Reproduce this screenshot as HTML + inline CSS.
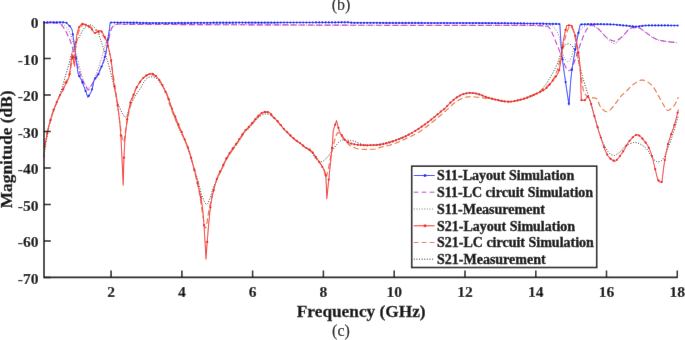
<!DOCTYPE html>
<html><head><meta charset="utf-8"><style>
html,body{margin:0;padding:0;background:#fff;}
svg{display:block;}
text{font-family:"Liberation Serif",serif;fill:#111;}
.tk{font-size:15.6px;font-weight:bold;stroke:#111;stroke-width:0.15px;}
.lg{font-size:14px;font-weight:bold;stroke:#111;stroke-width:0.4px;}
.al{font-size:17.3px;font-weight:bold;stroke:#111;stroke-width:0.3px;}
.cap{font-size:16px;stroke:#111;stroke-width:0.15px;}
</style></head><body>
<svg width="685" height="340" viewBox="0 0 685 340">
<defs><filter id="bl" x="0" y="0" width="685" height="340" filterUnits="userSpaceOnUse"><feConvolveMatrix order="3" kernelMatrix="0.0028 0.0470 0.0028 0.0470 0.8008 0.0470 0.0028 0.0470 0.0028" edgeMode="duplicate" preserveAlpha="false"/></filter></defs>
<g filter="url(#bl)">
<rect width="685" height="340" fill="#fff"/>
<text x="341" y="10" text-anchor="middle" class="cap">(b)</text>
<g><polyline points="44.0,22.8 45.6,22.8 47.9,22.8 50.6,22.8 53.4,22.8 56.0,22.9 58.0,23.0 59.5,23.2 60.6,23.4 61.6,23.6 62.4,24.0 63.2,24.4 64.0,25.0 64.9,25.7 65.8,26.5 66.6,27.4 67.4,28.5 68.2,29.7 69.0,31.0 69.7,32.5 70.4,34.1 71.1,35.9 71.7,37.9 72.3,39.9 73.0,42.0 73.7,44.3 74.3,46.7 75.0,49.2 75.7,51.8 76.3,54.4 77.0,57.0 77.7,59.7 78.3,62.4 79.0,65.2 79.7,68.0 80.3,70.6 81.0,73.0 81.7,75.2 82.4,77.3 83.0,79.2 83.7,81.0 84.4,82.6 85.0,84.0 85.6,85.2 86.2,86.1 86.8,86.9 87.4,87.5 87.9,87.9 88.5,88.0 89.1,87.9 89.6,87.6 90.2,87.0 90.7,86.2 91.3,85.2 92.0,84.0 92.8,82.5 93.6,80.6 94.5,78.5 95.4,76.3 96.2,74.1 97.0,72.0 97.7,70.0 98.4,68.1 99.1,66.1 99.7,64.1 100.3,62.1 101.0,60.0 101.7,57.8 102.3,55.4 103.0,53.1 103.7,50.7 104.3,48.3 105.0,46.0 105.7,43.7 106.3,41.4 107.0,39.1 107.7,36.9 108.3,34.8 109.0,33.0 109.7,31.4 110.3,30.0 110.9,28.8 111.6,27.7 112.3,26.8 113.0,26.0 113.8,25.4 114.5,24.9 115.3,24.7 116.1,24.5 117.0,24.3 118.0,24.2 119.1,24.1 120.3,24.1 121.5,24.2 122.7,24.3 123.9,24.3 125.0,24.4 125.2,24.4 124.4,24.4 123.6,24.4 123.6,24.5 125.4,24.5 130.0,24.5 137.6,24.5 147.4,24.6 159.1,24.6 172.0,24.6 185.8,24.7 200.0,24.7 214.9,24.8 231.1,24.8 248.1,24.9 265.6,25.0 283.0,25.0 300.0,25.1 316.7,25.2 333.3,25.2 350.0,25.3 366.7,25.3 383.3,25.4 400.0,25.4 417.4,25.4 435.6,25.4 453.8,25.4 471.1,25.5 486.8,25.5 500.0,25.5 510.5,25.5 519.1,25.6 525.9,25.6 531.5,25.7 536.1,25.7 540.0,25.8 542.8,25.9 544.2,26.0 544.6,26.1 544.5,26.2 544.5,26.3 545.0,26.3 546.1,26.2 547.2,26.0 548.5,25.7 549.7,25.5 550.8,25.4 551.8,25.5 552.6,25.9 553.3,26.4 553.9,27.1 554.4,27.8 554.9,28.7 555.5,29.5 556.1,30.3 556.7,31.1 557.2,32.0 557.8,33.0 558.3,34.1 558.8,35.6 559.3,37.4 559.7,39.7 560.2,42.1 560.6,44.5 561.0,46.8 561.5,48.9 562.0,50.7 562.5,52.4 563.0,54.0 563.5,55.5 564.0,56.8 564.5,58.0 565.1,59.1 565.6,60.0 566.2,60.9 566.8,61.5 567.4,61.9 568.0,62.0 568.6,61.8 569.2,61.3 569.8,60.5 570.4,59.5 570.9,58.3 571.5,57.0 572.0,55.4 572.5,53.4 573.0,51.3 573.5,49.1 574.0,46.9 574.5,45.0 575.0,43.3 575.4,41.6 575.8,40.0 576.3,38.5 576.7,37.0 577.3,35.6 577.9,34.2 578.7,32.9 579.4,31.7 580.2,30.6 581.0,29.5 581.7,28.6 582.4,27.8 583.1,27.2 583.8,26.6 584.5,26.2 585.2,25.8 586.0,25.5 586.8,25.3 587.6,25.1 588.4,25.0 589.2,25.0 590.1,25.1 591.0,25.3 592.0,25.6 593.0,25.9 594.0,26.4 595.1,26.9 596.1,27.4 597.0,28.0 597.8,28.6 598.6,29.3 599.3,30.0 600.0,30.8 600.7,31.6 601.5,32.5 602.4,33.4 603.3,34.4 604.2,35.5 605.2,36.5 606.2,37.5 607.2,38.5 608.3,39.5 609.5,40.7 610.7,41.8 611.9,42.7 613.1,43.4 614.3,43.6 615.5,43.3 616.7,42.6 617.9,41.5 619.1,40.3 620.2,39.1 621.3,38.0 622.4,36.9 623.4,35.8 624.4,34.6 625.4,33.4 626.3,32.4 627.1,31.5 627.7,30.8 628.2,30.2 628.7,29.6 629.1,29.2 629.6,28.8 630.2,28.5 631.0,28.2 632.0,28.1 633.0,27.9 634.1,27.9 635.0,27.8 635.9,27.8 636.6,27.8 637.2,27.7 637.7,27.7 638.2,27.7 638.7,27.8 639.4,28.1 640.2,28.5 641.0,29.0 641.8,29.7 642.8,30.3 643.7,31.1 644.7,31.8 645.8,32.6 646.9,33.4 648.0,34.3 649.2,35.2 650.4,36.1 651.5,36.8 652.5,37.4 653.5,38.0 654.5,38.5 655.5,39.0 656.5,39.5 657.7,39.9 659.0,40.3 660.4,40.6 661.8,40.9 663.3,41.2 664.9,41.5 666.5,41.7 668.3,41.9 670.3,42.2 672.4,42.4 674.3,42.5 675.9,42.7 677.1,42.8" fill="none" stroke="#8a7272" stroke-width="1.0" stroke-dasharray="1,1.6" stroke-linejoin="round"/>
<polyline points="44.0,157.5 44.1,156.6 44.2,155.4 44.4,153.9 44.6,152.3 44.8,150.6 45.0,149.0 45.2,147.4 45.5,145.8 45.8,144.1 46.1,142.4 46.4,140.7 46.7,139.0 47.0,137.3 47.3,135.6 47.6,133.8 48.0,132.1 48.3,130.5 48.6,129.0 48.9,127.6 49.2,126.3 49.5,125.0 49.9,123.8 50.2,122.7 50.5,121.5 50.8,120.4 51.1,119.3 51.4,118.3 51.7,117.2 52.0,116.2 52.4,115.0 52.8,113.7 53.3,112.4 53.8,111.0 54.3,109.6 54.8,108.3 55.3,107.0 55.7,105.9 56.1,104.9 56.5,104.0 56.9,103.0 57.4,101.8 57.9,100.4 58.5,98.7 59.2,96.8 59.9,94.7 60.6,92.5 61.3,90.2 62.0,88.0 62.7,85.7 63.4,83.3 64.1,80.8 64.7,78.4 65.4,76.1 66.0,74.0 66.6,72.1 67.1,70.3 67.6,68.6 68.1,67.1 68.6,65.5 69.0,64.0 69.4,62.5 69.7,61.1 70.1,59.7 70.4,58.4 70.7,57.0 71.1,55.6 71.5,54.2 71.9,52.8 72.4,51.4 72.8,50.0 73.4,48.5 74.0,47.0 74.7,45.4 75.5,43.8 76.4,42.1 77.3,40.4 78.2,38.7 79.1,37.1 80.0,35.5 80.8,33.8 81.7,32.2 82.6,30.7 83.4,29.3 84.3,28.2 85.2,27.3 86.1,26.6 86.9,26.0 87.8,25.5 88.6,25.2 89.4,25.0 90.1,24.9 90.7,24.8 91.3,24.9 91.8,25.1 92.4,25.5 93.1,26.0 93.9,26.7 94.7,27.6 95.6,28.7 96.4,29.9 97.3,31.2 98.0,32.5 98.7,33.9 99.3,35.5 99.8,37.2 100.4,38.9 100.9,40.7 101.5,42.5 102.1,44.4 102.8,46.4 103.4,48.5 104.1,50.6 104.7,52.6 105.3,54.4 105.8,56.0 106.4,57.6 106.8,59.0 107.3,60.4 107.8,61.8 108.2,63.2 108.6,64.7 109.0,66.1 109.4,67.6 109.7,69.0 110.1,70.5 110.5,72.0 110.9,73.4 111.2,74.7 111.5,76.0 111.9,77.5 112.4,79.3 112.9,81.5 113.5,84.4 114.3,87.8 115.1,91.5 115.9,95.3 116.8,98.8 117.6,101.8 118.4,104.3 119.2,106.6 120.1,108.7 120.9,110.5 121.7,112.1 122.4,113.5 123.1,114.7 123.7,115.7 124.2,116.5 124.8,117.0 125.3,117.2 125.9,117.0 126.5,116.3 127.1,115.1 127.7,113.6 128.3,111.9 128.8,110.3 129.4,108.8 129.9,107.5 130.4,106.1 130.9,104.8 131.4,103.5 131.9,102.2 132.5,101.0 133.1,99.8 133.8,98.6 134.5,97.4 135.1,96.2 135.8,95.1 136.5,94.0 137.2,93.0 137.8,92.1 138.4,91.2 139.1,90.3 139.7,89.3 140.4,88.3 141.1,87.2 141.7,85.9 142.4,84.6 143.1,83.4 143.8,82.2 144.4,81.2 145.0,80.4 145.6,79.7 146.2,79.1 146.7,78.5 147.3,78.1 147.9,77.7 148.5,77.4 149.1,77.1 149.7,77.0 150.3,76.9 150.9,76.8 151.5,76.8 152.1,76.8 152.7,76.9 153.3,77.0 153.8,77.2 154.4,77.4 155.0,77.7 155.6,78.0 156.2,78.3 156.8,78.7 157.3,79.2 157.9,79.7 158.5,80.3 159.1,81.0 159.7,81.9 160.2,82.8 160.8,83.7 161.4,84.7 162.0,85.6 162.6,86.5 163.2,87.3 163.9,88.2 164.5,89.1 165.1,90.0 165.6,90.9 166.1,91.9 166.6,92.9 167.0,94.0 167.4,95.0 167.8,96.1 168.2,97.1 168.5,97.9 168.6,98.5 168.8,99.1 169.0,99.9 169.4,101.1 170.0,103.0 170.9,105.8 172.1,109.3 173.4,113.2 174.8,117.4 176.2,121.4 177.6,125.0 179.0,128.2 180.4,131.3 181.9,134.2 183.3,137.1 184.6,140.0 185.9,143.0 187.0,146.0 188.0,148.9 189.0,151.9 189.9,154.9 190.8,157.9 191.8,161.0 192.8,164.3 193.9,167.7 195.0,171.2 196.1,174.6 197.1,177.9 198.0,181.0 198.8,183.9 199.5,186.6 200.1,189.2 200.7,191.7 201.3,193.9 202.0,196.0 202.7,198.0 203.5,199.8 204.3,201.5 205.1,202.9 205.8,203.9 206.5,204.4 207.1,204.3 207.7,203.6 208.3,202.5 208.8,201.1 209.4,199.6 210.0,198.0 210.6,196.4 211.2,194.6 211.7,192.6 212.4,190.5 213.1,188.3 214.0,186.0 215.1,183.4 216.5,180.5 218.0,177.4 219.5,174.4 220.8,171.7 221.9,169.5 222.7,167.8 223.2,166.6 223.6,165.6 224.0,164.8 224.3,164.0 224.8,163.0 225.4,161.9 226.0,160.7 226.6,159.6 227.3,158.5 228.0,157.4 228.6,156.3 229.2,155.3 229.8,154.4 230.4,153.5 231.1,152.5 231.7,151.6 232.4,150.6 233.2,149.5 234.0,148.4 234.8,147.2 235.6,146.0 236.4,144.9 237.2,143.8 237.9,142.8 238.5,141.8 239.2,140.8 239.8,139.9 240.4,138.9 241.0,138.0 241.6,137.0 242.3,136.1 242.9,135.1 243.5,134.1 244.2,133.2 244.9,132.3 245.6,131.5 246.4,130.7 247.3,129.9 248.1,129.1 248.9,128.4 249.6,127.6 250.3,126.8 251.0,126.0 251.6,125.3 252.2,124.5 252.9,123.7 253.5,123.0 254.1,122.3 254.8,121.5 255.4,120.8 256.0,120.1 256.7,119.4 257.3,118.8 257.9,118.2 258.6,117.6 259.3,117.0 259.9,116.5 260.5,116.0 261.1,115.6 261.6,115.3 262.0,115.0 262.4,114.8 262.7,114.7 263.1,114.5 263.5,114.4 264.0,114.3 264.4,114.2 264.9,114.1 265.4,114.0 266.0,114.0 266.5,114.0 267.1,114.1 267.6,114.2 268.2,114.3 268.8,114.5 269.4,114.7 270.0,115.0 270.5,115.4 271.1,115.8 271.6,116.3 272.1,116.8 272.6,117.3 273.2,117.8 273.8,118.3 274.4,118.8 275.1,119.4 275.7,119.9 276.3,120.4 276.9,121.0 277.4,121.6 277.9,122.1 278.4,122.7 278.9,123.3 279.4,123.9 279.9,124.5 280.5,125.2 281.1,125.9 281.7,126.6 282.3,127.4 282.9,128.1 283.5,128.8 284.1,129.4 284.7,130.0 285.3,130.6 285.9,131.2 286.5,131.8 287.2,132.4 287.9,133.1 288.6,133.8 289.4,134.6 290.1,135.4 290.9,136.1 291.6,136.8 292.3,137.4 293.0,138.1 293.8,138.7 294.5,139.2 295.2,139.8 296.0,140.4 296.8,141.0 297.7,141.6 298.6,142.2 299.5,142.8 300.4,143.4 301.2,144.0 302.0,144.6 302.7,145.1 303.4,145.6 304.1,146.2 304.8,146.8 305.6,147.4 306.5,148.1 307.5,148.8 308.6,149.5 309.7,150.3 310.6,151.1 311.5,152.0 312.2,153.0 312.8,154.0 313.3,155.2 313.8,156.3 314.3,157.3 315.0,158.2 315.8,159.0 316.6,159.8 317.5,160.5 318.5,161.1 319.4,161.5 320.3,161.7 321.2,161.7 322.0,161.5 322.9,161.1 323.8,160.6 324.7,159.9 325.6,159.1 326.6,158.1 327.6,156.9 328.7,155.5 329.7,154.0 330.8,152.6 331.8,151.2 332.8,149.8 333.9,148.4 334.9,146.9 335.9,145.5 336.9,144.3 337.9,143.2 338.8,142.3 339.7,141.5 340.5,140.9 341.3,140.4 342.2,140.0 343.2,139.7 344.3,139.6 345.5,139.7 346.8,139.9 348.0,140.1 349.2,140.4 350.3,140.6 351.2,140.7 351.9,140.8 352.6,140.9 353.3,141.0 354.1,141.2 355.0,141.5 356.1,141.9 357.3,142.4 358.5,143.0 359.9,143.6 361.4,144.1 363.0,144.5 364.8,144.8 366.9,145.0 369.1,145.2 371.2,145.3 373.3,145.3 375.0,145.3 376.4,145.2 377.5,144.9 378.4,144.6 379.4,144.3 380.4,143.9 381.8,143.5 383.5,143.1 385.3,142.7 387.3,142.2 389.4,141.7 391.5,141.1 393.5,140.5 395.5,139.8 397.4,139.1 399.4,138.3 401.4,137.5 403.3,136.7 405.3,135.8 407.3,134.9 409.2,134.0 411.2,133.1 413.2,132.1 415.1,131.0 417.1,129.9 419.1,128.7 421.0,127.4 422.9,126.0 424.9,124.6 426.8,123.2 428.8,121.7 430.8,120.1 433.0,118.3 435.2,116.4 437.2,114.7 439.1,113.1 440.6,111.8 441.7,110.9 442.4,110.4 443.0,110.0 443.4,109.7 443.9,109.3 444.7,108.6 445.7,107.6 446.8,106.5 447.9,105.2 449.2,103.9 450.4,102.7 451.7,101.5 453.0,100.4 454.4,99.3 455.8,98.2 457.2,97.2 458.6,96.4 459.9,95.6 461.1,95.0 462.3,94.5 463.5,94.1 464.6,93.8 465.7,93.6 466.9,93.4 468.1,93.2 469.2,93.1 470.4,93.1 471.6,93.1 472.7,93.2 473.9,93.3 475.1,93.5 476.2,93.7 477.3,94.0 478.5,94.3 479.7,94.6 480.9,95.0 482.1,95.4 483.2,95.9 484.3,96.4 485.6,96.9 487.2,97.4 489.1,98.0 491.6,98.7 494.5,99.4 497.7,100.2 501.0,100.9 504.2,101.5 507.1,101.8 509.7,101.8 512.1,101.6 514.4,101.3 516.7,100.8 518.9,100.3 521.2,99.7 523.5,99.1 525.9,98.4 528.3,97.7 530.6,96.8 532.8,95.9 534.7,95.0 536.4,94.0 537.9,92.9 539.3,91.7 540.5,90.5 541.7,89.3 542.9,88.0 544.0,86.7 545.1,85.3 546.1,83.9 547.0,82.5 547.9,81.1 548.8,79.7 549.7,78.3 550.5,77.0 551.3,75.6 552.0,74.2 552.8,72.9 553.5,71.5 554.2,70.1 554.9,68.8 555.6,67.5 556.3,66.1 557.0,64.7 557.6,63.2 558.2,61.6 558.7,59.8 559.3,58.0 559.8,56.2 560.3,54.5 560.9,53.0 561.5,51.6 562.1,50.3 562.7,49.0 563.3,47.9 563.9,46.9 564.5,46.0 565.1,45.3 565.7,44.7 566.3,44.3 566.9,44.0 567.5,43.9 568.1,43.8 568.7,43.9 569.4,44.0 570.0,44.3 570.7,44.7 571.3,45.3 572.0,46.0 572.7,46.8 573.4,47.7 574.2,48.8 574.9,50.0 575.6,51.4 576.3,53.0 577.0,54.9 577.6,57.1 578.2,59.5 578.8,62.0 579.4,64.5 580.0,66.8 580.6,69.0 581.1,71.2 581.7,73.3 582.3,75.5 582.8,77.7 583.5,80.0 584.2,82.3 584.9,84.7 585.7,87.1 586.5,89.6 587.3,92.2 588.2,95.0 589.1,98.0 590.0,101.3 591.0,104.7 592.0,108.1 593.0,111.6 594.0,115.0 595.0,118.4 596.0,121.9 596.9,125.3 597.9,128.7 598.9,132.0 600.0,135.0 601.1,137.9 602.2,140.7 603.4,143.4 604.6,145.9 605.8,148.1 606.9,150.0 608.0,151.6 609.1,152.8 610.2,153.9 611.3,154.6 612.4,155.1 613.5,155.4 614.6,155.4 615.7,155.0 616.8,154.4 617.9,153.6 619.0,152.8 620.0,152.0 620.9,151.1 621.7,150.2 622.4,149.1 623.2,148.1 624.1,147.1 625.3,146.2 626.7,145.4 628.4,144.5 630.1,143.6 632.0,143.0 633.8,142.5 635.6,142.5 637.4,142.9 639.2,143.6 641.0,144.5 642.8,145.7 644.4,146.9 645.9,148.2 647.2,149.6 648.3,151.2 649.3,152.9 650.3,154.7 651.2,156.2 652.1,157.5 653.0,158.6 653.8,159.5 654.7,160.3 655.5,161.0 656.3,161.4 657.2,161.6 658.2,161.7 659.1,161.6 660.2,161.4 661.2,160.9 662.3,159.9 663.4,158.5 664.5,156.5 665.7,154.0 666.9,151.1 668.1,147.9 669.4,144.5 670.6,141.0 672.0,136.9 673.4,132.2 675.0,127.3 676.4,122.5 677.5,118.5 678.4,115.7" fill="none" stroke="#222" stroke-width="1.0" stroke-dasharray="1,1.6" stroke-linejoin="round"/>
<polyline points="44.0,22.8 45.3,22.8 47.0,22.8 49.1,22.8 51.3,22.8 53.3,22.9 55.0,23.0 56.3,23.1 57.4,23.2 58.3,23.3 59.2,23.5 60.1,23.9 61.0,24.5 61.9,25.4 62.9,26.6 63.8,27.9 64.7,29.3 65.6,30.9 66.5,32.6 67.4,34.4 68.3,36.5 69.3,38.6 70.2,40.8 71.0,43.0 71.7,45.0 72.3,46.8 72.7,48.5 73.1,50.1 73.4,51.7 73.8,53.5 74.4,55.6 75.1,58.0 75.9,60.8 76.8,63.7 77.8,66.6 78.6,69.3 79.4,71.7 80.1,73.7 80.7,75.4 81.3,76.9 81.9,78.4 82.4,79.7 83.0,81.0 83.6,82.3 84.2,83.6 84.8,84.8 85.4,85.8 86.0,86.8 86.5,87.6 86.9,88.3 87.3,89.0 87.6,89.6 88.0,89.9 88.4,89.9 89.0,89.5 89.8,88.6 90.6,87.1 91.6,85.4 92.6,83.5 93.6,81.7 94.5,80.0 95.3,78.5 96.1,77.2 96.8,75.8 97.5,74.4 98.2,73.0 99.0,71.5 99.8,69.9 100.7,68.2 101.6,66.4 102.5,64.6 103.3,62.8 104.0,61.0 104.6,59.2 105.0,57.4 105.4,55.6 105.8,53.7 106.1,51.9 106.5,50.0 106.9,48.1 107.3,46.1 107.7,44.1 108.0,42.1 108.4,40.2 108.8,38.5 109.2,36.9 109.5,35.3 109.9,33.8 110.2,32.4 110.6,31.1 111.0,30.0 111.4,29.0 111.8,28.1 112.2,27.4 112.7,26.7 113.2,26.1 113.8,25.6 114.5,25.1 115.2,24.8 115.9,24.5 116.7,24.3 117.6,24.1 118.5,24.0 119.5,23.9 120.6,24.0 121.7,24.0 122.9,24.1 124.0,24.2 125.0,24.3 125.2,24.3 124.4,24.3 123.5,24.4 123.6,24.4 125.4,24.4 130.0,24.4 137.6,24.4 147.4,24.5 159.1,24.5 172.0,24.5 185.8,24.6 200.0,24.6 214.9,24.7 231.1,24.7 248.1,24.8 265.6,24.9 283.0,24.9 300.0,25.0 316.7,25.1 333.3,25.1 350.0,25.2 366.7,25.2 383.3,25.3 400.0,25.3 417.5,25.3 435.9,25.4 454.4,25.4 471.9,25.4 487.4,25.4 500.0,25.4 509.3,25.4 515.9,25.4 520.6,25.4 524.1,25.4 527.0,25.4 530.0,25.4 532.8,25.4 534.9,25.4 536.4,25.5 537.5,25.5 538.7,25.6 540.0,25.7 541.5,25.8 543.0,25.8 544.4,25.8 545.8,26.0 547.1,26.3 548.2,26.8 549.2,27.6 550.0,28.7 550.7,29.9 551.3,31.2 552.0,32.5 552.6,33.9 553.2,35.2 553.8,36.5 554.3,37.9 554.9,39.4 555.5,41.0 556.2,42.7 557.0,44.7 557.9,46.8 558.8,49.1 559.7,51.5 560.6,53.7 561.5,55.9 562.3,58.0 563.1,60.2 563.8,62.3 564.5,64.2 565.2,66.0 565.9,67.4 566.5,68.5 567.1,69.4 567.7,70.0 568.3,70.4 568.8,70.6 569.4,70.6 570.0,70.3 570.5,69.8 571.1,69.1 571.7,68.1 572.3,67.0 572.9,65.6 573.6,64.0 574.3,62.0 575.1,59.8 575.9,57.5 576.6,55.3 577.3,53.3 577.9,51.4 578.6,49.6 579.2,47.8 579.7,46.0 580.3,44.3 580.9,42.7 581.5,41.1 582.1,39.5 582.7,38.0 583.2,36.6 583.8,35.2 584.4,33.9 585.0,32.7 585.6,31.5 586.1,30.4 586.7,29.4 587.3,28.5 587.9,27.7 588.5,27.0 589.1,26.5 589.8,26.0 590.4,25.7 591.0,25.4 591.5,25.2 592.0,25.1 592.4,25.1 592.8,25.2 593.2,25.4 593.6,25.6 594.0,25.8 594.5,26.0 594.9,26.2 595.4,26.5 595.9,26.8 596.5,27.2 597.1,27.7 597.7,28.3 598.4,28.9 599.1,29.7 599.9,30.4 600.7,31.3 601.5,32.1 602.4,33.0 603.2,34.0 604.2,35.1 605.1,36.1 606.1,37.1 607.2,37.9 608.4,38.7 609.6,39.4 610.9,40.1 612.2,40.6 613.5,41.0 614.7,41.1 615.9,40.9 617.0,40.5 618.1,39.8 619.2,39.1 620.3,38.2 621.3,37.4 622.3,36.5 623.4,35.4 624.4,34.3 625.4,33.1 626.3,32.1 627.1,31.2 627.7,30.5 628.2,29.9 628.7,29.3 629.1,28.9 629.6,28.5 630.2,28.2 631.0,28.0 632.0,27.8 633.0,27.7 634.1,27.6 635.0,27.6 635.9,27.6 636.6,27.6 637.2,27.5 637.7,27.5 638.2,27.5 638.7,27.6 639.4,27.9 640.2,28.3 641.0,28.8 641.8,29.4 642.8,30.1 643.7,30.8 644.7,31.5 645.8,32.3 646.9,33.1 648.0,34.0 649.2,34.9 650.4,35.8 651.5,36.5 652.5,37.1 653.5,37.7 654.5,38.2 655.5,38.7 656.5,39.2 657.7,39.6 659.0,40.0 660.4,40.3 661.8,40.6 663.3,40.9 664.9,41.2 666.5,41.4 668.3,41.6 670.3,41.9 672.4,42.1 674.3,42.2 675.9,42.4 677.1,42.5" fill="none" stroke="#c63ad6" stroke-width="1.15" stroke-dasharray="5.6,2.9" stroke-linejoin="round"/>
<polyline points="44.0,156.7 44.1,155.7 44.2,154.2 44.3,152.6 44.4,150.7 44.6,148.9 44.8,147.1 45.1,145.4 45.4,143.6 45.7,141.8 46.0,140.1 46.4,138.3 46.7,136.6 47.0,134.9 47.3,133.2 47.7,131.6 48.0,129.9 48.3,128.4 48.6,127.0 48.9,125.7 49.2,124.6 49.5,123.5 49.9,122.5 50.2,121.5 50.5,120.4 50.8,119.3 51.1,118.2 51.4,117.1 51.7,116.0 52.0,114.9 52.4,113.7 52.8,112.5 53.3,111.2 53.7,110.0 54.2,108.7 54.8,107.4 55.3,106.0 55.9,104.6 56.5,103.1 57.1,101.6 57.8,100.1 58.5,98.7 59.1,97.3 59.7,96.1 60.4,94.9 61.1,93.8 61.7,92.7 62.3,91.6 62.8,90.5 63.2,89.4 63.4,88.4 63.6,87.3 63.7,86.3 64.0,85.2 64.4,84.0 65.0,82.8 65.7,81.7 66.5,80.5 67.3,79.2 68.1,77.7 68.8,76.0 69.4,74.0 70.0,71.6 70.5,69.1 71.0,66.6 71.5,64.2 72.0,62.0 72.5,60.1 73.0,58.4 73.4,56.8 73.9,55.2 74.3,53.6 74.7,52.0 75.1,50.3 75.4,48.6 75.7,47.0 75.9,45.3 76.2,43.6 76.5,42.0 76.8,40.4 77.1,38.7 77.3,37.1 77.6,35.6 78.0,34.0 78.4,32.6 78.9,31.2 79.5,29.8 80.1,28.4 80.7,27.2 81.4,26.1 82.1,25.3 82.8,24.8 83.5,24.4 84.2,24.3 84.9,24.3 85.7,24.4 86.5,24.6 87.4,25.0 88.4,25.5 89.4,26.1 90.4,26.8 91.4,27.5 92.4,28.2 93.4,28.8 94.3,29.4 95.3,29.9 96.2,30.5 97.2,31.2 98.2,31.9 99.2,32.7 100.3,33.6 101.5,34.5 102.5,35.4 103.5,36.4 104.4,37.5 105.1,38.6 105.7,39.7 106.2,40.9 106.7,42.2 107.1,43.5 107.6,45.0 108.1,46.6 108.5,48.4 109.0,50.2 109.4,52.1 109.8,54.1 110.2,56.0 110.5,57.9 110.9,59.9 111.1,61.9 111.4,64.0 111.7,66.0 112.0,68.0 112.3,69.9 112.6,71.7 112.9,73.5 113.3,75.4 113.6,77.5 114.0,80.0 114.4,82.9 114.9,86.1 115.5,89.5 116.0,93.0 116.5,96.6 117.0,100.0 117.4,103.3 117.8,106.6 118.2,109.9 118.6,113.2 119.0,116.6 119.5,120.0 120.1,123.9 120.7,128.5 121.3,133.0 122.0,137.1 122.6,140.2 123.2,141.8 123.7,141.6 124.2,139.9 124.6,137.3 125.1,134.1 125.5,130.8 126.0,128.0 126.5,125.5 126.9,122.9 127.4,120.3 127.9,117.6 128.4,114.8 129.0,112.0 129.7,109.0 130.5,105.8 131.4,102.5 132.2,99.3 133.0,96.4 133.8,94.0 134.4,92.1 135.0,90.6 135.5,89.4 136.1,88.3 136.7,87.2 137.4,86.0 138.2,84.6 139.1,83.2 140.1,81.7 141.1,80.3 142.1,79.1 143.2,78.0 144.3,77.1 145.5,76.2 146.7,75.5 147.9,75.0 149.1,74.6 150.3,74.5 151.5,74.6 152.8,75.0 154.0,75.6 155.2,76.3 156.4,77.1 157.4,78.0 158.3,78.9 159.1,80.0 159.8,81.1 160.5,82.4 161.3,83.6 162.0,85.0 162.8,86.4 163.7,88.0 164.5,89.6 165.4,91.2 166.1,92.9 166.8,94.5 167.3,96.0 167.6,97.2 167.9,98.5 168.2,100.0 168.7,101.8 169.4,104.0 170.4,106.9 171.7,110.3 173.1,114.0 174.7,117.8 176.2,121.5 177.6,125.0 179.0,128.2 180.4,131.2 181.9,134.2 183.3,137.1 184.7,140.0 185.9,143.0 187.0,145.9 188.0,148.7 189.0,151.5 189.9,154.4 190.8,157.5 191.8,161.0 192.9,164.9 194.0,169.2 195.1,173.7 196.2,178.3 197.3,182.7 198.2,187.0 199.0,191.1 199.7,195.1 200.3,199.0 200.9,202.8 201.4,206.5 202.0,210.0 202.6,213.7 203.2,217.7 203.8,221.6 204.3,224.9 204.9,227.1 205.5,228.0 206.1,227.1 206.6,224.7 207.2,221.2 207.8,217.3 208.4,213.4 209.0,210.0 209.6,206.9 210.3,203.8 211.0,200.7 211.6,197.6 212.3,194.7 213.0,192.0 213.7,189.5 214.3,187.2 214.9,185.0 215.6,182.9 216.3,181.0 217.0,179.0 217.8,177.1 218.7,175.2 219.7,173.5 220.6,171.8 221.5,170.2 222.2,168.7 222.8,167.4 223.3,166.2 223.7,165.1 224.2,164.1 224.6,163.1 225.1,162.0 225.7,160.9 226.3,159.7 226.9,158.6 227.6,157.5 228.3,156.4 228.9,155.3 229.5,154.3 230.1,153.4 230.7,152.4 231.4,151.5 232.0,150.6 232.7,149.6 233.5,148.5 234.3,147.4 235.1,146.3 235.9,145.1 236.7,144.0 237.5,142.9 238.2,141.9 238.8,140.9 239.5,139.9 240.1,139.0 240.7,138.1 241.3,137.1 241.9,136.1 242.6,135.2 243.2,134.2 243.8,133.2 244.5,132.3 245.2,131.4 245.9,130.5 246.7,129.7 247.6,128.9 248.4,128.2 249.2,127.4 249.9,126.6 250.6,125.8 251.3,125.0 251.9,124.2 252.5,123.4 253.2,122.7 253.8,121.9 254.4,121.1 255.1,120.4 255.7,119.6 256.3,118.9 257.0,118.2 257.6,117.5 258.2,116.9 258.9,116.2 259.6,115.6 260.2,115.0 260.8,114.5 261.4,114.1 261.9,113.8 262.3,113.5 262.7,113.3 263.0,113.1 263.4,112.9 263.8,112.8 264.3,112.7 264.7,112.5 265.2,112.4 265.7,112.4 266.3,112.4 266.8,112.4 267.4,112.5 267.9,112.7 268.5,112.8 269.1,113.1 269.7,113.4 270.3,113.8 270.8,114.3 271.4,114.8 271.9,115.5 272.4,116.1 272.9,116.8 273.5,117.4 274.1,118.0 274.7,118.6 275.4,119.2 276.0,119.8 276.6,120.4 277.2,121.0 277.7,121.6 278.2,122.2 278.7,122.8 279.2,123.4 279.7,124.0 280.2,124.7 280.8,125.4 281.4,126.1 282.0,126.9 282.6,127.7 283.2,128.4 283.8,129.1 284.4,129.7 285.0,130.4 285.6,130.9 286.2,131.5 286.8,132.2 287.5,132.8 288.2,133.5 288.9,134.2 289.7,135.0 290.4,135.8 291.2,136.5 291.9,137.2 292.6,137.9 293.3,138.5 294.1,139.1 294.8,139.7 295.5,140.3 296.3,140.9 297.1,141.5 298.0,142.1 298.9,142.8 299.8,143.4 300.7,144.0 301.5,144.6 302.3,145.2 303.0,145.8 303.7,146.4 304.4,147.0 305.1,147.6 305.9,148.2 306.8,148.8 307.7,149.3 308.6,149.9 309.6,150.5 310.5,151.2 311.5,152.0 312.5,153.1 313.5,154.3 314.6,155.7 315.6,157.0 316.5,158.4 317.4,159.5 318.1,160.5 318.8,161.3 319.4,162.1 319.9,162.9 320.5,163.7 321.0,164.5 321.5,165.3 322.0,166.1 322.5,167.0 322.9,167.8 323.4,168.7 323.8,169.7 324.2,171.0 324.6,172.6 324.9,174.2 325.3,175.7 325.6,176.7 326.0,177.0 326.4,176.5 326.8,175.3 327.2,173.7 327.7,171.9 328.1,169.9 328.5,168.0 328.9,166.1 329.3,164.1 329.7,161.9 330.1,159.7 330.5,157.6 330.9,155.6 331.3,153.7 331.8,151.8 332.2,150.0 332.7,148.2 333.1,146.5 333.5,145.0 333.8,143.6 334.1,142.3 334.4,141.1 334.7,140.0 335.0,138.9 335.3,137.9 335.7,136.8 336.1,135.7 336.5,134.6 337.0,133.7 337.5,133.0 337.9,132.6 338.3,132.5 338.7,132.8 339.1,133.2 339.5,133.8 340.0,134.6 340.6,135.3 341.3,136.1 342.1,137.1 343.0,138.2 344.0,139.4 344.9,140.5 345.9,141.5 346.8,142.5 347.8,143.4 348.7,144.3 349.7,145.2 350.8,146.0 352.0,146.7 353.3,147.3 354.6,147.8 355.9,148.3 357.4,148.7 359.1,149.0 360.9,149.2 363.0,149.3 365.5,149.4 368.1,149.4 370.6,149.3 373.0,149.2 375.0,149.0 376.5,148.8 377.6,148.5 378.6,148.2 379.4,147.8 380.5,147.4 381.8,147.0 383.5,146.6 385.3,146.1 387.3,145.7 389.4,145.2 391.5,144.6 393.5,144.0 395.5,143.3 397.4,142.5 399.4,141.7 401.4,140.8 403.3,139.9 405.3,139.0 407.3,138.1 409.2,137.2 411.2,136.3 413.2,135.3 415.1,134.3 417.1,133.2 419.1,132.0 421.0,130.7 422.9,129.3 424.9,127.9 426.8,126.5 428.8,125.0 430.8,123.4 432.9,121.7 435.0,120.0 437.0,118.3 438.9,116.7 440.6,115.2 442.1,113.9 443.5,112.7 444.7,111.7 445.9,110.7 447.0,109.6 448.2,108.6 449.4,107.5 450.5,106.4 451.7,105.4 452.8,104.3 454.0,103.3 455.2,102.4 456.5,101.5 457.9,100.7 459.3,99.8 460.7,99.1 462.1,98.4 463.4,97.9 464.6,97.5 465.8,97.2 466.9,97.0 468.0,96.8 469.2,96.8 470.4,96.7 471.7,96.7 473.0,96.7 474.4,96.9 475.8,97.0 477.2,97.2 478.6,97.3 480.0,97.5 481.4,97.6 482.9,97.8 484.3,98.1 485.5,98.2 486.7,98.4 487.6,98.5 488.1,98.6 488.6,98.6 489.1,98.7 490.0,98.8 491.4,99.0 493.4,99.4 495.9,100.0 498.7,100.6 501.6,101.1 504.4,101.6 507.1,101.8 509.6,101.8 512.0,101.6 514.4,101.2 516.7,100.8 519.0,100.3 521.2,99.7 523.3,99.1 525.4,98.4 527.3,97.6 529.3,96.7 531.1,95.9 532.9,95.0 534.6,94.2 536.3,93.3 537.8,92.4 539.4,91.6 540.9,90.6 542.4,89.6 543.9,88.5 545.5,87.4 547.0,86.2 548.5,85.0 549.8,83.7 551.0,82.5 552.0,81.3 552.8,80.0 553.5,78.8 554.1,77.6 554.7,76.3 555.3,75.0 555.9,73.7 556.4,72.5 556.8,71.2 557.3,69.9 557.7,68.5 558.2,67.0 558.7,65.3 559.2,63.4 559.7,61.5 560.1,59.6 560.6,57.7 561.0,56.0 561.4,54.6 561.7,53.3 562.0,52.1 562.3,50.9 562.6,49.6 563.0,48.0 563.4,46.1 563.9,43.9 564.4,41.5 564.9,39.1 565.5,36.9 566.0,35.0 566.6,33.2 567.1,31.6 567.7,30.0 568.3,28.7 568.9,27.6 569.5,27.0 570.1,26.8 570.7,26.9 571.3,27.2 571.9,27.9 572.4,28.9 573.0,30.0 573.5,31.4 574.1,33.1 574.6,35.1 575.1,37.2 575.5,39.5 576.0,42.0 576.4,44.7 576.9,47.6 577.3,50.7 577.7,53.9 578.1,57.0 578.5,60.0 578.9,62.8 579.4,65.6 579.9,68.3 580.3,71.0 580.8,73.6 581.2,76.2 581.6,78.8 581.9,81.3 582.2,83.8 582.6,86.2 583.0,88.4 583.5,90.3 584.1,92.0 584.8,93.4 585.5,94.7 586.3,95.7 587.2,96.6 588.2,97.4 589.4,97.9 590.9,98.0 592.4,97.9 593.9,97.8 595.3,98.0 596.5,98.5 597.4,99.5 598.0,100.8 598.5,102.2 599.0,103.8 599.6,105.2 600.3,106.5 601.2,107.7 602.3,108.8 603.5,110.0 604.6,110.9 605.8,111.5 606.9,111.8 607.9,111.6 608.9,111.1 609.9,110.2 610.9,109.2 611.9,108.0 613.0,106.8 614.1,105.5 615.3,103.9 616.5,102.2 617.6,100.5 618.8,98.9 620.0,97.4 621.1,96.1 622.3,94.9 623.4,93.8 624.5,92.8 625.6,91.7 626.8,90.6 628.0,89.5 629.1,88.3 630.3,87.1 631.5,86.0 632.7,84.9 634.0,84.0 635.3,83.1 636.7,82.1 638.2,81.2 639.6,80.5 641.1,80.1 642.6,80.0 644.1,80.3 645.7,80.9 647.4,81.8 649.0,82.9 650.5,84.1 651.9,85.4 653.2,86.9 654.4,88.6 655.5,90.5 656.6,92.4 657.6,94.2 658.5,95.9 659.4,97.4 660.1,98.8 660.9,100.2 661.6,101.5 662.3,102.8 663.0,104.0 663.8,105.3 664.5,106.7 665.3,108.0 666.1,109.2 666.9,110.0 667.8,110.4 668.8,110.2 670.0,109.6 671.1,108.6 672.3,107.5 673.4,106.3 674.4,105.1 675.3,103.8 676.1,102.4 676.8,100.8 677.5,99.3 678.0,98.1 678.4,97.2" fill="none" stroke="#e8703a" stroke-width="1.15" stroke-dasharray="5.6,2.9" stroke-linejoin="round"/>
<polyline points="44.0,22.4 44.9,22.4 46.1,22.4 47.5,22.3 49.0,22.3 50.6,22.3 52.0,22.3 53.4,22.3 54.7,22.3 56.1,22.3 57.5,22.3 58.8,22.3 60.0,22.3 61.2,22.3 62.4,22.3 63.5,22.3 64.5,22.4 65.4,22.4 66.0,22.4 66.4,22.8 67.0,23.3 67.6,24.0 68.3,24.7 69.0,25.4 69.6,26.0 70.1,26.7 70.6,27.4 71.1,28.1 71.5,28.7 71.8,29.3 72.1,29.7 72.4,31.6 72.8,34.3 73.3,37.5 73.8,40.9 74.3,44.3 74.7,47.4 75.1,50.4 75.5,53.6 75.9,56.7 76.2,59.7 76.6,62.5 76.9,65.0 77.2,67.1 77.4,68.8 77.6,70.4 77.8,71.7 78.1,73.1 78.5,74.4 78.9,75.6 79.4,76.6 80.0,77.5 80.6,78.5 81.3,79.7 82.0,81.4 82.9,83.7 84.0,86.6 85.2,89.8 86.3,92.8 87.2,95.5 87.9,97.3 88.3,96.6 88.9,95.6 89.6,94.5 90.4,93.2 91.1,91.8 91.7,90.3 92.2,88.7 92.7,86.8 93.1,84.8 93.5,82.9 93.9,81.1 94.4,79.7 94.9,78.7 95.4,78.2 95.9,77.8 96.5,77.4 97.2,76.6 97.9,75.3 98.8,73.3 99.9,70.8 101.0,68.0 102.2,65.1 103.2,62.1 104.1,59.4 104.8,56.9 105.4,54.6 105.9,52.3 106.4,49.9 106.8,47.3 107.3,44.4 107.8,40.9 108.4,36.8 108.9,32.5 109.5,28.4 109.9,25.0 110.2,22.5 112.4,22.5 115.3,22.5 118.9,22.5 122.7,22.5 126.5,22.6 130.0,22.6 133.3,22.7 136.7,22.7 140.0,22.8 143.3,22.9 146.7,23.0 150.0,23.0 153.2,23.0 156.3,23.0 159.4,23.0 162.6,23.0 166.1,23.0 170.0,23.0 174.2,23.0 178.5,22.9 183.1,22.9 188.1,22.9 193.7,22.8 200.0,22.8 207.2,22.8 215.2,22.7 223.8,22.7 232.6,22.7 241.4,22.6 250.0,22.6 258.4,22.6 266.7,22.6 275.1,22.6 283.5,22.5 291.8,22.5 300.0,22.5 308.7,22.5 317.9,22.4 327.1,22.4 335.6,22.4 342.8,22.3 348.0,22.3 352.0,22.8 356.6,22.8 362.5,22.8 369.8,22.8 378.4,22.8 388.4,22.9 400.0,22.9 414.1,22.9 431.0,23.0 449.3,23.0 467.7,23.1 485.1,23.1 500.0,23.2 513.0,23.3 525.1,23.5 536.1,23.6 545.8,23.8 553.8,23.9 559.8,24.0 560.0,27.1 560.3,31.4 560.6,36.5 560.9,41.8 561.2,46.7 561.5,50.6 561.7,53.5 562.0,55.7 562.2,57.5 562.4,59.2 562.6,60.9 562.9,63.0 563.2,65.2 563.5,67.4 563.8,69.6 564.1,72.0 564.5,74.8 565.0,78.0 565.6,82.1 566.3,87.1 567.1,92.4 567.9,97.6 568.5,101.9 569.0,105.0 569.2,101.8 569.5,97.3 569.9,92.1 570.3,86.5 570.7,81.0 571.2,76.2 571.7,71.8 572.3,67.5 572.9,63.4 573.6,59.4 574.2,55.7 574.7,52.4 575.2,49.5 575.6,47.0 576.0,44.7 576.4,42.6 576.9,40.5 577.3,38.3 577.8,35.8 578.4,33.2 578.9,30.5 579.4,28.1 579.9,26.0 580.2,24.5 581.1,24.5 582.3,24.4 583.8,24.3 585.5,24.3 587.6,24.2 590.0,24.2 593.0,24.2 596.7,24.2 600.7,24.2 604.6,24.3 608.3,24.3 611.2,24.4 613.4,24.5 615.1,24.6 616.4,24.7 617.5,24.8 618.7,25.0 620.0,25.1 621.5,25.2 623.0,25.4 624.5,25.5 626.0,25.6 627.4,25.8 628.8,25.9 630.1,26.0 631.3,26.2 632.5,26.3 633.6,26.5 634.7,26.6 635.9,26.6 637.1,26.5 638.3,26.4 639.5,26.3 640.6,26.1 641.8,25.9 643.0,25.8 643.9,25.7 644.6,25.6 645.2,25.5 646.1,25.5 647.6,25.4 650.0,25.4 653.8,25.4 658.8,25.4 664.4,25.4 670.0,25.5 674.7,25.5 678.0,25.5" fill="none" stroke="#3048ff" stroke-width="1.05" stroke-linejoin="round"/>
<g fill="#0010f0"><circle cx="44.0" cy="22.4" r="1.1"/><circle cx="47.2" cy="22.4" r="1.1"/><circle cx="50.4" cy="22.3" r="1.1"/><circle cx="53.6" cy="22.3" r="1.1"/><circle cx="56.8" cy="22.3" r="1.1"/><circle cx="60.0" cy="22.3" r="1.1"/><circle cx="63.2" cy="22.3" r="1.1"/><circle cx="66.4" cy="22.8" r="1.1"/><circle cx="69.6" cy="26.0" r="1.1"/><circle cx="72.8" cy="34.4" r="1.1"/><circle cx="76.0" cy="57.9" r="1.1"/><circle cx="79.2" cy="76.1" r="1.1"/><circle cx="82.4" cy="82.4" r="1.1"/><circle cx="85.6" cy="91.0" r="1.1"/><circle cx="88.8" cy="95.8" r="1.1"/><circle cx="92.0" cy="89.3" r="1.1"/><circle cx="95.2" cy="78.4" r="1.1"/><circle cx="98.4" cy="74.2" r="1.1"/><circle cx="101.6" cy="66.5" r="1.1"/><circle cx="104.8" cy="57.0" r="1.1"/><circle cx="108.0" cy="39.7" r="1.1"/><circle cx="111.2" cy="22.5" r="1.1"/><circle cx="114.4" cy="22.5" r="1.1"/><circle cx="117.6" cy="22.5" r="1.1"/><circle cx="120.8" cy="22.5" r="1.1"/><circle cx="124.0" cy="22.5" r="1.1"/><circle cx="127.2" cy="22.6" r="1.1"/><circle cx="130.4" cy="22.6" r="1.1"/><circle cx="133.6" cy="22.7" r="1.1"/><circle cx="136.8" cy="22.7" r="1.1"/><circle cx="140.0" cy="22.8" r="1.1"/><circle cx="143.2" cy="22.9" r="1.1"/><circle cx="146.4" cy="22.9" r="1.1"/><circle cx="149.6" cy="23.0" r="1.1"/><circle cx="152.8" cy="23.0" r="1.1"/><circle cx="156.0" cy="23.0" r="1.1"/><circle cx="159.2" cy="23.0" r="1.1"/><circle cx="162.4" cy="23.0" r="1.1"/><circle cx="165.6" cy="23.0" r="1.1"/><circle cx="168.8" cy="23.0" r="1.1"/><circle cx="172.0" cy="23.0" r="1.1"/><circle cx="175.2" cy="23.0" r="1.1"/><circle cx="178.4" cy="22.9" r="1.1"/><circle cx="181.6" cy="22.9" r="1.1"/><circle cx="184.8" cy="22.9" r="1.1"/><circle cx="188.0" cy="22.9" r="1.1"/><circle cx="191.2" cy="22.9" r="1.1"/><circle cx="194.4" cy="22.8" r="1.1"/><circle cx="197.6" cy="22.8" r="1.1"/><circle cx="200.8" cy="22.8" r="1.1"/><circle cx="204.0" cy="22.8" r="1.1"/><circle cx="207.2" cy="22.8" r="1.1"/><circle cx="210.4" cy="22.8" r="1.1"/><circle cx="213.6" cy="22.7" r="1.1"/><circle cx="216.8" cy="22.7" r="1.1"/><circle cx="220.0" cy="22.7" r="1.1"/><circle cx="223.2" cy="22.7" r="1.1"/><circle cx="226.4" cy="22.7" r="1.1"/><circle cx="229.6" cy="22.7" r="1.1"/><circle cx="232.8" cy="22.7" r="1.1"/><circle cx="236.0" cy="22.6" r="1.1"/><circle cx="239.2" cy="22.6" r="1.1"/><circle cx="242.4" cy="22.6" r="1.1"/><circle cx="245.6" cy="22.6" r="1.1"/><circle cx="248.8" cy="22.6" r="1.1"/><circle cx="252.0" cy="22.6" r="1.1"/><circle cx="255.2" cy="22.6" r="1.1"/><circle cx="258.4" cy="22.6" r="1.1"/><circle cx="261.6" cy="22.6" r="1.1"/><circle cx="264.8" cy="22.6" r="1.1"/><circle cx="268.0" cy="22.6" r="1.1"/><circle cx="271.2" cy="22.6" r="1.1"/><circle cx="274.4" cy="22.6" r="1.1"/><circle cx="277.6" cy="22.5" r="1.1"/><circle cx="280.8" cy="22.5" r="1.1"/><circle cx="284.0" cy="22.5" r="1.1"/><circle cx="287.2" cy="22.5" r="1.1"/><circle cx="290.4" cy="22.5" r="1.1"/><circle cx="293.6" cy="22.5" r="1.1"/><circle cx="296.8" cy="22.5" r="1.1"/><circle cx="300.0" cy="22.5" r="1.1"/><circle cx="303.2" cy="22.5" r="1.1"/><circle cx="306.4" cy="22.5" r="1.1"/><circle cx="309.6" cy="22.5" r="1.1"/><circle cx="312.8" cy="22.5" r="1.1"/><circle cx="316.0" cy="22.4" r="1.1"/><circle cx="319.2" cy="22.4" r="1.1"/><circle cx="322.4" cy="22.4" r="1.1"/><circle cx="325.6" cy="22.4" r="1.1"/><circle cx="328.8" cy="22.4" r="1.1"/><circle cx="332.0" cy="22.4" r="1.1"/><circle cx="335.2" cy="22.4" r="1.1"/><circle cx="338.4" cy="22.3" r="1.1"/><circle cx="341.6" cy="22.3" r="1.1"/><circle cx="344.8" cy="22.3" r="1.1"/><circle cx="348.0" cy="22.3" r="1.1"/><circle cx="351.2" cy="22.7" r="1.1"/><circle cx="354.4" cy="22.8" r="1.1"/><circle cx="357.6" cy="22.8" r="1.1"/><circle cx="360.8" cy="22.8" r="1.1"/><circle cx="364.0" cy="22.8" r="1.1"/><circle cx="367.2" cy="22.8" r="1.1"/><circle cx="370.4" cy="22.8" r="1.1"/><circle cx="373.6" cy="22.8" r="1.1"/><circle cx="376.8" cy="22.8" r="1.1"/><circle cx="380.0" cy="22.9" r="1.1"/><circle cx="383.2" cy="22.9" r="1.1"/><circle cx="386.4" cy="22.9" r="1.1"/><circle cx="389.6" cy="22.9" r="1.1"/><circle cx="392.8" cy="22.9" r="1.1"/><circle cx="396.0" cy="22.9" r="1.1"/><circle cx="399.2" cy="22.9" r="1.1"/><circle cx="402.4" cy="22.9" r="1.1"/><circle cx="405.6" cy="22.9" r="1.1"/><circle cx="408.8" cy="22.9" r="1.1"/><circle cx="412.0" cy="22.9" r="1.1"/><circle cx="415.2" cy="22.9" r="1.1"/><circle cx="418.4" cy="22.9" r="1.1"/><circle cx="421.6" cy="22.9" r="1.1"/><circle cx="424.8" cy="23.0" r="1.1"/><circle cx="428.0" cy="23.0" r="1.1"/><circle cx="431.2" cy="23.0" r="1.1"/><circle cx="434.4" cy="23.0" r="1.1"/><circle cx="437.6" cy="23.0" r="1.1"/><circle cx="440.8" cy="23.0" r="1.1"/><circle cx="444.0" cy="23.0" r="1.1"/><circle cx="447.2" cy="23.0" r="1.1"/><circle cx="450.4" cy="23.0" r="1.1"/><circle cx="453.6" cy="23.0" r="1.1"/><circle cx="456.8" cy="23.0" r="1.1"/><circle cx="460.0" cy="23.0" r="1.1"/><circle cx="463.2" cy="23.0" r="1.1"/><circle cx="466.4" cy="23.1" r="1.1"/><circle cx="469.6" cy="23.1" r="1.1"/><circle cx="472.8" cy="23.1" r="1.1"/><circle cx="476.0" cy="23.1" r="1.1"/><circle cx="479.2" cy="23.1" r="1.1"/><circle cx="482.4" cy="23.1" r="1.1"/><circle cx="485.6" cy="23.1" r="1.1"/><circle cx="488.8" cy="23.1" r="1.1"/><circle cx="492.0" cy="23.2" r="1.1"/><circle cx="495.2" cy="23.2" r="1.1"/><circle cx="498.4" cy="23.2" r="1.1"/><circle cx="501.6" cy="23.2" r="1.1"/><circle cx="504.8" cy="23.2" r="1.1"/><circle cx="508.0" cy="23.3" r="1.1"/><circle cx="511.2" cy="23.3" r="1.1"/><circle cx="514.4" cy="23.3" r="1.1"/><circle cx="517.6" cy="23.4" r="1.1"/><circle cx="520.8" cy="23.4" r="1.1"/><circle cx="524.0" cy="23.4" r="1.1"/><circle cx="527.2" cy="23.5" r="1.1"/><circle cx="530.4" cy="23.5" r="1.1"/><circle cx="533.6" cy="23.6" r="1.1"/><circle cx="536.8" cy="23.6" r="1.1"/><circle cx="540.0" cy="23.7" r="1.1"/><circle cx="543.2" cy="23.7" r="1.1"/><circle cx="546.4" cy="23.8" r="1.1"/><circle cx="549.6" cy="23.8" r="1.1"/><circle cx="552.8" cy="23.9" r="1.1"/><circle cx="556.0" cy="23.9" r="1.1"/><circle cx="559.2" cy="24.0" r="1.1"/><circle cx="562.4" cy="59.3" r="1.1"/><circle cx="565.6" cy="82.1" r="1.1"/><circle cx="568.8" cy="103.7" r="1.1"/><circle cx="572.0" cy="69.8" r="1.1"/><circle cx="575.2" cy="49.4" r="1.1"/><circle cx="578.4" cy="32.9" r="1.1"/><circle cx="581.6" cy="24.4" r="1.1"/><circle cx="584.8" cy="24.3" r="1.1"/><circle cx="588.0" cy="24.2" r="1.1"/><circle cx="591.2" cy="24.2" r="1.1"/><circle cx="594.4" cy="24.2" r="1.1"/><circle cx="597.6" cy="24.2" r="1.1"/><circle cx="600.8" cy="24.2" r="1.1"/><circle cx="604.0" cy="24.3" r="1.1"/><circle cx="607.2" cy="24.3" r="1.1"/><circle cx="610.4" cy="24.4" r="1.1"/><circle cx="613.6" cy="24.5" r="1.1"/><circle cx="616.8" cy="24.8" r="1.1"/><circle cx="620.0" cy="25.1" r="1.1"/><circle cx="623.2" cy="25.4" r="1.1"/><circle cx="626.4" cy="25.7" r="1.1"/><circle cx="629.6" cy="26.0" r="1.1"/><circle cx="632.8" cy="26.4" r="1.1"/><circle cx="636.0" cy="26.6" r="1.1"/><circle cx="639.2" cy="26.3" r="1.1"/><circle cx="642.4" cy="25.9" r="1.1"/><circle cx="645.6" cy="25.5" r="1.1"/><circle cx="648.8" cy="25.4" r="1.1"/><circle cx="652.0" cy="25.4" r="1.1"/><circle cx="655.2" cy="25.4" r="1.1"/><circle cx="658.4" cy="25.4" r="1.1"/><circle cx="661.6" cy="25.4" r="1.1"/><circle cx="664.8" cy="25.4" r="1.1"/><circle cx="668.0" cy="25.4" r="1.1"/><circle cx="671.2" cy="25.5" r="1.1"/><circle cx="674.4" cy="25.5" r="1.1"/><circle cx="677.6" cy="25.5" r="1.1"/></g>
<polyline points="44.0,156.2 44.1,155.2 44.2,153.7 44.3,152.1 44.4,150.2 44.6,148.4 44.8,146.6 45.1,144.9 45.4,143.1 45.7,141.3 46.0,139.6 46.4,137.8 46.7,136.1 47.0,134.4 47.3,132.7 47.7,131.1 48.0,129.4 48.3,127.9 48.6,126.5 48.9,125.2 49.2,124.1 49.5,123.0 49.9,122.0 50.2,121.0 50.5,119.9 50.8,118.8 51.1,117.7 51.4,116.6 51.7,115.5 52.0,114.4 52.4,113.2 52.8,112.0 53.3,110.7 53.7,109.5 54.2,108.2 54.8,106.9 55.3,105.5 55.9,104.1 56.5,102.6 57.1,101.1 57.8,99.6 58.5,98.2 59.1,96.8 59.7,95.5 60.4,94.4 61.0,93.2 61.6,92.2 62.2,91.1 62.8,90.0 63.3,88.9 63.9,87.9 64.3,86.9 64.8,85.8 65.3,84.8 65.8,83.8 66.3,82.8 66.9,81.8 67.4,80.8 67.9,79.8 68.4,78.7 68.8,77.6 69.1,76.5 69.4,75.4 69.6,74.3 69.8,73.0 70.0,71.5 70.2,69.7 70.5,67.3 70.8,64.4 71.2,61.3 71.5,58.2 71.8,55.6 72.0,53.8 74.6,66.2 74.8,63.2 75.0,58.8 75.3,53.8 75.6,48.6 75.9,43.8 76.2,40.0 76.5,37.2 76.8,35.0 77.2,33.2 77.6,31.7 78.0,30.3 78.4,29.0 78.9,27.8 79.5,26.7 80.0,25.8 80.6,25.1 81.2,24.5 81.8,24.1 82.3,23.9 82.9,23.8 83.4,23.9 83.9,24.1 84.4,24.4 85.0,24.6 85.6,24.8 86.2,25.1 86.9,25.4 87.5,25.8 88.1,26.1 88.7,26.5 89.2,26.9 89.7,27.2 90.2,27.6 90.7,28.0 91.1,28.5 91.6,29.0 92.1,29.6 92.6,30.4 93.1,31.2 93.6,31.9 94.1,32.5 94.6,32.9 95.1,33.0 95.6,32.9 96.0,32.7 96.5,32.4 97.0,32.1 97.5,31.9 98.0,31.7 98.6,31.3 99.2,31.0 99.7,30.7 100.3,30.7 100.9,30.9 101.5,31.5 102.1,32.3 102.8,33.3 103.4,34.5 104.0,35.7 104.6,36.8 105.1,37.9 105.6,39.0 106.1,40.1 106.6,41.3 107.0,42.6 107.5,44.1 108.0,45.8 108.5,47.8 109.0,49.8 109.5,51.9 110.0,54.0 110.4,55.9 110.7,57.7 111.0,59.5 111.3,61.2 111.5,62.9 111.7,64.6 111.9,66.2 112.1,67.8 112.2,69.2 112.4,70.7 112.5,72.1 112.6,73.5 112.8,75.0 113.0,76.4 113.1,77.8 113.3,79.2 113.5,80.7 113.7,82.3 114.0,84.1 114.3,86.1 114.7,88.4 115.1,90.7 115.6,93.2 116.0,95.7 116.4,98.2 116.8,100.7 117.2,103.1 117.6,105.5 118.0,108.1 118.4,110.9 118.8,114.0 119.2,117.1 119.5,120.2 119.9,123.5 120.2,127.2 120.5,131.6 120.9,137.0 121.3,144.1 121.7,153.0 122.2,162.6 122.6,171.8 122.9,179.8 123.2,185.3 123.3,181.2 123.5,175.5 123.6,168.8 123.9,161.7 124.1,154.8 124.4,148.8 124.7,143.5 125.1,138.4 125.6,133.6 126.0,129.0 126.5,124.7 127.0,120.6 127.6,116.8 128.2,113.1 128.8,109.8 129.5,106.7 130.1,104.1 130.6,101.8 131.1,100.1 131.5,99.0 131.8,98.3 132.2,97.7 132.6,97.1 133.0,96.2 133.5,95.0 134.0,93.8 134.5,92.4 135.0,91.1 135.5,89.8 136.0,88.7 136.5,87.7 137.0,86.7 137.5,85.9 138.1,85.0 138.6,84.2 139.1,83.4 139.6,82.6 140.1,81.8 140.6,81.1 141.1,80.3 141.7,79.6 142.2,79.0 142.8,78.4 143.4,77.8 143.9,77.3 144.5,76.8 145.1,76.3 145.7,75.9 146.2,75.5 146.8,75.2 147.3,74.9 147.8,74.7 148.3,74.5 148.8,74.3 149.3,74.1 149.8,73.9 150.4,73.8 150.9,73.7 151.4,73.7 151.9,73.7 152.4,73.8 152.9,74.0 153.4,74.2 153.9,74.5 154.5,74.8 155.0,75.2 155.6,75.7 156.1,76.2 156.7,76.9 157.3,77.5 157.9,78.3 158.5,79.0 159.1,79.8 159.7,80.6 160.3,81.5 160.9,82.4 161.4,83.3 162.0,84.3 162.5,85.4 163.1,86.5 163.6,87.6 164.1,88.8 164.6,90.0 165.1,91.1 165.6,92.2 166.1,93.1 166.6,94.1 167.1,95.1 167.7,96.3 168.2,97.6 168.7,99.1 169.3,100.7 169.8,102.4 170.4,104.2 171.1,106.2 171.8,108.2 172.6,110.4 173.6,112.7 174.6,115.1 175.6,117.5 176.6,120.0 177.6,122.4 178.6,124.8 179.6,127.2 180.6,129.6 181.6,132.0 182.6,134.3 183.5,136.5 184.4,138.6 185.2,140.6 186.0,142.5 186.8,144.4 187.5,146.3 188.2,148.2 188.8,150.0 189.4,151.6 189.9,153.2 190.4,155.0 191.1,157.2 191.8,160.0 192.7,163.5 193.8,167.5 194.9,171.9 196.1,176.5 197.2,181.2 198.2,185.6 199.1,189.6 200.0,193.4 200.8,197.2 201.5,201.2 202.2,205.9 202.9,211.5 203.5,218.7 204.2,227.6 204.7,237.0 205.3,246.0 205.7,253.8 206.0,259.2 206.2,256.3 206.5,252.3 206.8,247.5 207.2,242.3 207.6,237.0 208.0,232.0 208.4,227.1 208.9,222.0 209.4,216.8 209.9,211.6 210.5,206.7 211.2,202.0 212.0,197.6 213.0,193.2 214.0,189.0 215.0,185.1 216.1,181.6 217.0,178.5 217.9,176.0 218.8,173.9 219.6,172.2 220.4,170.8 221.2,169.5 221.9,168.1 222.5,166.8 223.0,165.6 223.4,164.5 223.8,163.5 224.3,162.5 224.8,161.4 225.4,160.3 226.0,159.1 226.6,158.0 227.3,156.9 228.0,155.8 228.6,154.7 229.2,153.7 229.8,152.8 230.4,151.8 231.1,150.9 231.7,150.0 232.4,149.0 233.2,147.9 234.0,146.8 234.8,145.7 235.6,144.5 236.4,143.4 237.2,142.3 237.9,141.3 238.5,140.3 239.2,139.3 239.8,138.4 240.4,137.5 241.0,136.5 241.6,135.5 242.3,134.6 242.9,133.6 243.5,132.6 244.2,131.7 244.9,130.8 245.6,129.9 246.4,129.1 247.3,128.3 248.1,127.6 248.9,126.8 249.6,126.0 250.3,125.2 251.0,124.4 251.6,123.6 252.2,122.8 252.9,122.1 253.5,121.3 254.1,120.5 254.8,119.8 255.4,119.0 256.0,118.3 256.7,117.6 257.3,116.9 257.9,116.3 258.6,115.6 259.3,115.0 259.9,114.4 260.5,113.9 261.1,113.5 261.6,113.2 262.0,112.9 262.4,112.7 262.7,112.5 263.1,112.3 263.5,112.2 264.0,112.1 264.4,111.9 264.9,111.8 265.4,111.8 266.0,111.8 266.5,111.8 267.1,111.9 267.6,112.1 268.2,112.2 268.8,112.5 269.4,112.8 270.0,113.2 270.5,113.7 271.1,114.2 271.6,114.9 272.1,115.5 272.6,116.2 273.2,116.8 273.8,117.4 274.4,118.0 275.1,118.6 275.7,119.2 276.3,119.8 276.9,120.4 277.4,121.0 277.9,121.6 278.4,122.2 278.9,122.8 279.4,123.4 279.9,124.1 280.5,124.8 281.1,125.5 281.7,126.3 282.3,127.1 282.9,127.8 283.5,128.5 284.1,129.1 284.7,129.8 285.3,130.3 285.9,130.9 286.5,131.6 287.2,132.2 287.9,132.9 288.6,133.6 289.4,134.4 290.1,135.2 290.9,135.9 291.6,136.6 292.3,137.3 293.0,137.9 293.8,138.5 294.5,139.1 295.2,139.7 296.0,140.3 296.8,140.9 297.7,141.5 298.6,142.2 299.5,142.8 300.4,143.4 301.2,144.0 302.0,144.6 302.7,145.2 303.4,145.8 304.1,146.4 304.8,147.0 305.6,147.6 306.5,148.1 307.4,148.6 308.4,149.0 309.4,149.5 310.4,150.2 311.5,151.2 312.6,152.5 313.8,154.1 315.1,155.8 316.3,157.6 317.5,159.4 318.5,160.9 319.4,162.2 320.2,163.4 321.0,164.6 321.7,165.7 322.3,166.8 322.9,167.9 323.5,168.9 324.0,169.6 324.4,170.4 324.9,171.4 325.3,172.8 325.6,175.0 325.9,178.3 326.2,182.6 326.4,187.3 326.5,192.0 326.7,196.0 326.8,198.8 327.4,193.1 328.2,185.0 329.2,175.6 330.2,165.9 331.1,157.0 331.8,150.0 332.3,144.9 332.6,140.7 332.8,137.4 333.0,134.8 333.1,132.6 333.2,130.9 336.5,120.6 336.8,121.9 337.3,123.7 337.9,125.9 338.5,128.1 339.1,130.2 339.7,131.8 340.3,133.0 340.9,134.1 341.5,134.9 342.1,135.6 342.7,136.3 343.2,137.0 343.6,137.7 343.9,138.2 344.1,138.7 344.4,139.2 344.7,139.7 345.2,140.2 345.9,140.7 346.7,141.3 347.6,141.9 348.5,142.4 349.4,142.9 350.3,143.3 351.1,143.6 351.9,143.8 352.6,144.0 353.4,144.1 354.2,144.3 355.0,144.4 355.9,144.5 356.8,144.7 357.8,144.8 358.7,144.9 359.7,145.0 360.6,145.1 361.5,145.2 362.4,145.2 363.2,145.3 364.1,145.4 364.9,145.4 365.8,145.4 366.6,145.4 367.3,145.4 368.1,145.4 368.9,145.3 369.8,145.3 371.0,145.2 372.5,145.1 374.2,145.1 376.0,145.0 377.9,144.9 379.9,144.7 381.8,144.4 383.7,144.0 385.6,143.6 387.6,143.0 389.6,142.5 391.5,141.8 393.5,141.2 395.5,140.5 397.4,139.8 399.4,139.1 401.4,138.3 403.3,137.4 405.3,136.5 407.3,135.5 409.2,134.4 411.2,133.3 413.2,132.1 415.1,130.9 417.1,129.7 419.1,128.4 421.0,127.1 422.9,125.8 424.9,124.4 426.8,123.0 428.8,121.5 430.8,119.9 433.0,118.1 435.2,116.3 437.2,114.6 439.1,113.1 440.6,111.8 441.7,110.9 442.4,110.4 443.0,110.0 443.4,109.7 443.9,109.3 444.7,108.6 445.7,107.6 446.8,106.4 447.9,105.2 449.2,103.9 450.4,102.6 451.7,101.4 453.0,100.3 454.4,99.2 455.8,98.1 457.2,97.2 458.6,96.3 459.9,95.5 461.1,94.9 462.3,94.4 463.5,94.0 464.6,93.7 465.7,93.4 466.9,93.2 468.1,93.0 469.2,92.9 470.4,92.9 471.6,92.9 472.7,93.0 473.9,93.1 475.1,93.3 476.2,93.5 477.3,93.8 478.5,94.1 479.7,94.5 480.9,94.9 482.1,95.3 483.2,95.8 484.3,96.3 485.6,96.8 487.2,97.3 489.1,97.9 491.6,98.5 494.5,99.3 497.7,100.1 501.0,100.8 504.2,101.3 507.1,101.6 509.7,101.6 512.2,101.4 514.5,101.0 516.8,100.6 519.0,100.0 521.2,99.5 523.3,98.9 525.4,98.2 527.3,97.5 529.3,96.7 531.1,95.9 532.9,95.2 534.7,94.5 536.4,93.7 538.1,93.0 539.6,92.2 541.1,91.5 542.4,90.8 543.5,90.1 544.4,89.6 545.2,89.0 546.0,88.3 546.7,87.6 547.6,86.8 548.6,85.8 549.6,84.6 550.6,83.4 551.6,82.1 552.6,80.8 553.5,79.7 554.3,78.6 555.1,77.6 555.8,76.6 556.5,75.6 557.1,74.7 557.6,73.8 558.1,73.0 558.4,72.1 558.8,71.4 559.0,70.7 559.2,70.1 559.4,69.7 559.5,68.9 559.7,67.7 559.9,66.3 560.2,64.9 560.4,63.4 560.6,62.1 560.8,60.9 560.9,59.9 561.0,58.8 561.2,57.7 561.3,56.5 561.5,55.0 561.7,53.3 561.9,51.3 562.2,49.2 562.4,47.1 562.7,45.0 563.0,43.0 563.3,41.1 563.6,39.3 564.0,37.4 564.3,35.7 564.7,34.0 565.0,32.5 565.3,31.0 565.7,29.6 566.0,28.3 566.3,27.1 566.6,26.1 566.8,25.4 571.5,25.3 571.8,26.1 572.3,27.2 572.8,28.5 573.3,29.9 573.9,31.3 574.3,32.5 574.7,33.6 575.0,34.7 575.2,35.7 575.5,36.8 575.8,37.9 576.0,39.0 576.2,40.0 576.4,40.9 576.6,41.8 576.8,42.9 577.0,44.3 577.3,46.2 577.7,48.6 578.1,51.2 578.6,54.2 579.2,57.6 579.6,61.3 580.0,65.6 580.3,70.9 580.6,77.3 580.8,84.1 581.0,90.7 581.2,96.3 581.3,100.2 584.9,100.2 587.8,96.2 588.1,96.7 588.5,97.4 589.0,98.3 589.5,99.3 590.1,100.5 590.6,102.0 591.1,103.7 591.6,105.5 592.2,107.6 592.7,109.9 593.4,112.3 594.1,115.0 594.9,117.9 595.9,121.2 596.8,124.6 597.9,128.1 598.9,131.6 600.0,135.0 601.1,138.4 602.2,141.9 603.4,145.4 604.6,148.7 605.8,151.7 606.9,154.1 608.1,156.0 609.2,157.5 610.4,158.7 611.5,159.5 612.6,160.2 613.5,160.7 614.2,161.0 614.8,161.2 615.3,161.1 615.7,160.8 616.3,160.3 617.0,159.6 617.9,158.7 618.9,157.4 619.9,156.0 621.0,154.5 622.1,152.9 623.2,151.3 624.2,149.7 625.2,147.9 626.2,146.0 627.2,144.2 628.3,142.5 629.4,141.0 630.6,139.6 631.9,138.1 633.3,136.8 634.7,135.7 636.1,135.0 637.4,134.8 638.8,135.3 640.2,136.3 641.6,137.7 643.0,139.3 644.2,140.9 645.3,142.2 646.2,143.3 646.9,144.2 647.4,145.1 648.0,146.1 648.5,147.1 649.0,148.2 649.6,149.4 650.1,150.6 650.6,152.0 651.1,153.4 651.6,154.9 652.1,156.5 652.6,158.3 653.1,160.3 653.6,162.5 654.1,164.6 654.6,166.8 655.1,168.8 655.6,170.8 656.1,173.0 656.6,175.1 657.1,177.1 657.6,178.8 658.2,180.1 658.8,181.0 659.5,181.6 660.2,181.9 660.9,182.0 661.5,182.1 661.9,182.2 662.2,180.0 662.5,177.0 663.0,173.4 663.4,169.6 663.9,165.9 664.4,162.6 664.9,159.6 665.4,156.7 665.9,153.8 666.4,151.1 667.0,148.5 667.5,146.2 668.0,144.2 668.5,142.4 669.0,140.8 669.5,139.2 670.0,137.7 670.6,136.0 671.2,134.3 671.8,132.6 672.4,130.8 673.1,129.0 673.7,127.1 674.4,125.0 675.1,122.5 675.9,119.6 676.6,116.6 677.4,113.8 678.0,111.3 678.4,109.6" fill="none" stroke="#f23a3a" stroke-width="1.05" stroke-linejoin="round"/>
<g fill="#e81010"><circle cx="44.0" cy="156.2" r="1.1"/><circle cx="47.2" cy="133.4" r="1.1"/><circle cx="50.4" cy="120.2" r="1.1"/><circle cx="53.6" cy="109.8" r="1.1"/><circle cx="56.8" cy="101.9" r="1.1"/><circle cx="60.0" cy="95.1" r="1.1"/><circle cx="63.2" cy="89.2" r="1.1"/><circle cx="66.4" cy="82.6" r="1.1"/><circle cx="69.6" cy="74.1" r="1.1"/><circle cx="72.8" cy="57.6" r="1.1"/><circle cx="76.0" cy="42.4" r="1.1"/><circle cx="79.2" cy="27.2" r="1.1"/><circle cx="82.4" cy="23.9" r="1.1"/><circle cx="85.6" cy="24.8" r="1.1"/><circle cx="88.8" cy="26.6" r="1.1"/><circle cx="92.0" cy="29.5" r="1.1"/><circle cx="95.2" cy="33.0" r="1.1"/><circle cx="98.4" cy="31.4" r="1.1"/><circle cx="101.6" cy="31.6" r="1.1"/><circle cx="104.8" cy="37.2" r="1.1"/><circle cx="108.0" cy="45.8" r="1.1"/><circle cx="111.2" cy="60.7" r="1.1"/><circle cx="114.4" cy="86.5" r="1.1"/><circle cx="117.6" cy="105.4" r="1.1"/><circle cx="120.8" cy="135.5" r="1.1"/><circle cx="124.0" cy="157.7" r="1.1"/><circle cx="127.2" cy="119.2" r="1.1"/><circle cx="130.4" cy="102.6" r="1.1"/><circle cx="133.6" cy="94.7" r="1.1"/><circle cx="136.8" cy="87.2" r="1.1"/><circle cx="140.0" cy="82.0" r="1.1"/><circle cx="143.2" cy="78.0" r="1.1"/><circle cx="146.4" cy="75.4" r="1.1"/><circle cx="149.6" cy="74.0" r="1.1"/><circle cx="152.8" cy="73.9" r="1.1"/><circle cx="156.0" cy="76.1" r="1.1"/><circle cx="159.2" cy="79.9" r="1.1"/><circle cx="162.4" cy="85.1" r="1.1"/><circle cx="165.6" cy="92.1" r="1.1"/><circle cx="168.8" cy="99.3" r="1.1"/><circle cx="172.0" cy="108.7" r="1.1"/><circle cx="175.2" cy="116.6" r="1.1"/><circle cx="178.4" cy="124.3" r="1.1"/><circle cx="181.6" cy="131.9" r="1.1"/><circle cx="184.8" cy="139.6" r="1.1"/><circle cx="188.0" cy="147.7" r="1.1"/><circle cx="191.2" cy="157.8" r="1.1"/><circle cx="194.4" cy="169.9" r="1.1"/><circle cx="197.6" cy="182.9" r="1.1"/><circle cx="200.8" cy="197.4" r="1.1"/><circle cx="204.0" cy="225.2" r="1.1"/><circle cx="207.2" cy="241.9" r="1.1"/><circle cx="210.4" cy="207.5" r="1.1"/><circle cx="213.6" cy="190.6" r="1.1"/><circle cx="216.8" cy="179.2" r="1.1"/><circle cx="220.0" cy="171.6" r="1.1"/><circle cx="223.2" cy="165.1" r="1.1"/><circle cx="226.4" cy="158.4" r="1.1"/><circle cx="229.6" cy="153.1" r="1.1"/><circle cx="232.8" cy="148.4" r="1.1"/><circle cx="236.0" cy="144.0" r="1.1"/><circle cx="239.2" cy="139.3" r="1.1"/><circle cx="242.4" cy="134.3" r="1.1"/><circle cx="245.6" cy="130.0" r="1.1"/><circle cx="248.8" cy="126.8" r="1.1"/><circle cx="252.0" cy="123.1" r="1.1"/><circle cx="255.2" cy="119.3" r="1.1"/><circle cx="258.4" cy="115.8" r="1.1"/><circle cx="261.6" cy="113.1" r="1.1"/><circle cx="264.8" cy="111.9" r="1.1"/><circle cx="268.0" cy="112.2" r="1.1"/><circle cx="271.2" cy="114.4" r="1.1"/><circle cx="274.4" cy="118.0" r="1.1"/><circle cx="277.6" cy="121.2" r="1.1"/><circle cx="280.8" cy="125.2" r="1.1"/><circle cx="284.0" cy="129.0" r="1.1"/><circle cx="287.2" cy="132.2" r="1.1"/><circle cx="290.4" cy="135.4" r="1.1"/><circle cx="293.6" cy="138.4" r="1.1"/><circle cx="296.8" cy="140.9" r="1.1"/><circle cx="300.0" cy="143.1" r="1.1"/><circle cx="303.2" cy="145.7" r="1.1"/><circle cx="306.4" cy="148.1" r="1.1"/><circle cx="309.6" cy="149.7" r="1.1"/><circle cx="312.8" cy="152.7" r="1.1"/><circle cx="316.0" cy="157.2" r="1.1"/><circle cx="319.2" cy="161.9" r="1.1"/><circle cx="322.4" cy="167.0" r="1.1"/><circle cx="325.6" cy="175.0" r="1.1"/><circle cx="328.8" cy="179.6" r="1.1"/><circle cx="332.0" cy="147.8" r="1.1"/><circle cx="335.2" cy="124.7" r="1.1"/><circle cx="338.4" cy="127.8" r="1.1"/><circle cx="341.6" cy="135.0" r="1.1"/><circle cx="344.8" cy="139.8" r="1.1"/><circle cx="348.0" cy="142.1" r="1.1"/><circle cx="351.2" cy="143.6" r="1.1"/><circle cx="354.4" cy="144.3" r="1.1"/><circle cx="357.6" cy="144.8" r="1.1"/><circle cx="360.8" cy="145.1" r="1.1"/><circle cx="364.0" cy="145.3" r="1.1"/><circle cx="367.2" cy="145.4" r="1.1"/><circle cx="370.4" cy="145.2" r="1.1"/><circle cx="373.6" cy="145.1" r="1.1"/><circle cx="376.8" cy="144.9" r="1.1"/><circle cx="380.0" cy="144.7" r="1.1"/><circle cx="383.2" cy="144.1" r="1.1"/><circle cx="386.4" cy="143.4" r="1.1"/><circle cx="389.6" cy="142.5" r="1.1"/><circle cx="392.8" cy="141.4" r="1.1"/><circle cx="396.0" cy="140.3" r="1.1"/><circle cx="399.2" cy="139.1" r="1.1"/><circle cx="402.4" cy="137.8" r="1.1"/><circle cx="405.6" cy="136.3" r="1.1"/><circle cx="408.8" cy="134.7" r="1.1"/><circle cx="412.0" cy="132.8" r="1.1"/><circle cx="415.2" cy="130.9" r="1.1"/><circle cx="418.4" cy="128.9" r="1.1"/><circle cx="421.6" cy="126.7" r="1.1"/><circle cx="424.8" cy="124.5" r="1.1"/><circle cx="428.0" cy="122.1" r="1.1"/><circle cx="431.2" cy="119.6" r="1.1"/><circle cx="434.4" cy="117.0" r="1.1"/><circle cx="437.6" cy="114.3" r="1.1"/><circle cx="440.8" cy="111.6" r="1.1"/><circle cx="444.0" cy="109.2" r="1.1"/><circle cx="447.2" cy="106.0" r="1.1"/><circle cx="450.4" cy="102.6" r="1.1"/><circle cx="453.6" cy="99.8" r="1.1"/><circle cx="456.8" cy="97.4" r="1.1"/><circle cx="460.0" cy="95.5" r="1.1"/><circle cx="463.2" cy="94.1" r="1.1"/><circle cx="466.4" cy="93.3" r="1.1"/><circle cx="469.6" cy="92.9" r="1.1"/><circle cx="472.8" cy="93.0" r="1.1"/><circle cx="476.0" cy="93.5" r="1.1"/><circle cx="479.2" cy="94.4" r="1.1"/><circle cx="482.4" cy="95.5" r="1.1"/><circle cx="485.6" cy="96.8" r="1.1"/><circle cx="488.8" cy="97.8" r="1.1"/><circle cx="492.0" cy="98.7" r="1.1"/><circle cx="495.2" cy="99.5" r="1.1"/><circle cx="498.4" cy="100.2" r="1.1"/><circle cx="501.6" cy="100.9" r="1.1"/><circle cx="504.8" cy="101.4" r="1.1"/><circle cx="508.0" cy="101.6" r="1.1"/><circle cx="511.2" cy="101.5" r="1.1"/><circle cx="514.4" cy="101.1" r="1.1"/><circle cx="517.6" cy="100.4" r="1.1"/><circle cx="520.8" cy="99.6" r="1.1"/><circle cx="524.0" cy="98.7" r="1.1"/><circle cx="527.2" cy="97.5" r="1.1"/><circle cx="530.4" cy="96.2" r="1.1"/><circle cx="533.6" cy="94.9" r="1.1"/><circle cx="536.8" cy="93.5" r="1.1"/><circle cx="540.0" cy="92.1" r="1.1"/><circle cx="543.2" cy="90.3" r="1.1"/><circle cx="546.4" cy="88.0" r="1.1"/><circle cx="549.6" cy="84.6" r="1.1"/><circle cx="552.8" cy="80.6" r="1.1"/><circle cx="556.0" cy="76.3" r="1.1"/><circle cx="559.2" cy="70.2" r="1.1"/><circle cx="562.4" cy="47.4" r="1.1"/><circle cx="565.6" cy="29.9" r="1.1"/><circle cx="568.8" cy="25.4" r="1.1"/><circle cx="572.0" cy="26.5" r="1.1"/><circle cx="575.2" cy="35.6" r="1.1"/><circle cx="578.4" cy="52.7" r="1.1"/><circle cx="581.6" cy="100.2" r="1.1"/><circle cx="584.8" cy="100.2" r="1.1"/><circle cx="588.0" cy="96.6" r="1.1"/><circle cx="591.2" cy="104.0" r="1.1"/><circle cx="594.4" cy="116.1" r="1.1"/><circle cx="597.6" cy="127.2" r="1.1"/><circle cx="600.8" cy="137.5" r="1.1"/><circle cx="604.0" cy="147.1" r="1.1"/><circle cx="607.2" cy="154.6" r="1.1"/><circle cx="610.4" cy="158.7" r="1.1"/><circle cx="613.6" cy="160.7" r="1.1"/><circle cx="616.8" cy="159.8" r="1.1"/><circle cx="620.0" cy="155.9" r="1.1"/><circle cx="623.2" cy="151.3" r="1.1"/><circle cx="626.4" cy="145.6" r="1.1"/><circle cx="629.6" cy="140.8" r="1.1"/><circle cx="632.8" cy="137.3" r="1.1"/><circle cx="636.0" cy="135.0" r="1.1"/><circle cx="639.2" cy="135.6" r="1.1"/><circle cx="642.4" cy="138.7" r="1.1"/><circle cx="645.6" cy="142.6" r="1.1"/><circle cx="648.8" cy="147.8" r="1.1"/><circle cx="652.0" cy="156.2" r="1.1"/><circle cx="655.2" cy="169.2" r="1.1"/><circle cx="658.4" cy="180.4" r="1.1"/><circle cx="661.6" cy="182.1" r="1.1"/><circle cx="664.8" cy="160.1" r="1.1"/><circle cx="668.0" cy="144.2" r="1.1"/><circle cx="671.2" cy="134.2" r="1.1"/><circle cx="674.4" cy="125.0" r="1.1"/><circle cx="677.6" cy="112.8" r="1.1"/></g></g>
<path d="M44,21.3 V277.4 H677.7" fill="none" stroke="#181818" stroke-width="1.6"/>
<path d="M44,58.5 H50.8" stroke="#181818" stroke-width="1.5"/>
<path d="M44,95.0 H50.8" stroke="#181818" stroke-width="1.5"/>
<path d="M44,131.5 H50.8" stroke="#181818" stroke-width="1.5"/>
<path d="M44,168.0 H50.8" stroke="#181818" stroke-width="1.5"/>
<path d="M44,204.5 H50.8" stroke="#181818" stroke-width="1.5"/>
<path d="M44,241.0 H50.8" stroke="#181818" stroke-width="1.5"/>
<path d="M44,277.5 H50.8" stroke="#181818" stroke-width="1.5"/>
<text x="38.6" y="28.3" text-anchor="end" class="tk">0</text>
<text x="38.6" y="64.8" text-anchor="end" class="tk">-10</text>
<text x="38.6" y="101.3" text-anchor="end" class="tk">-20</text>
<text x="38.6" y="137.8" text-anchor="end" class="tk">-30</text>
<text x="38.6" y="174.3" text-anchor="end" class="tk">-40</text>
<text x="38.6" y="210.8" text-anchor="end" class="tk">-50</text>
<text x="38.6" y="247.3" text-anchor="end" class="tk">-60</text>
<text x="38.6" y="283.8" text-anchor="end" class="tk">-70</text>
<path d="M111.1,277.5 V270.5" stroke="#181818" stroke-width="1.5"/>
<text x="111.1" y="297.2" text-anchor="middle" class="tk">2</text>
<path d="M181.9,277.5 V270.5" stroke="#181818" stroke-width="1.5"/>
<text x="181.9" y="297.2" text-anchor="middle" class="tk">4</text>
<path d="M252.6,277.5 V270.5" stroke="#181818" stroke-width="1.5"/>
<text x="252.6" y="297.2" text-anchor="middle" class="tk">6</text>
<path d="M323.4,277.5 V270.5" stroke="#181818" stroke-width="1.5"/>
<text x="323.4" y="297.2" text-anchor="middle" class="tk">8</text>
<path d="M394.2,277.5 V270.5" stroke="#181818" stroke-width="1.5"/>
<text x="394.2" y="297.2" text-anchor="middle" class="tk">10</text>
<path d="M465.0,277.5 V270.5" stroke="#181818" stroke-width="1.5"/>
<text x="465.0" y="297.2" text-anchor="middle" class="tk">12</text>
<path d="M535.8,277.5 V270.5" stroke="#181818" stroke-width="1.5"/>
<text x="535.8" y="297.2" text-anchor="middle" class="tk">14</text>
<path d="M606.5,277.5 V270.5" stroke="#181818" stroke-width="1.5"/>
<text x="606.5" y="297.2" text-anchor="middle" class="tk">16</text>
<path d="M677.3,277.5 V270.5" stroke="#181818" stroke-width="1.5"/>
<text x="677.3" y="297.2" text-anchor="middle" class="tk">18</text>
<rect x="411.7" y="166.2" width="185" height="101.3" fill="#fff" stroke="#181818" stroke-width="1.6"/>
<path d="M413.8,175.5 H434.6" stroke="#1f2bff" stroke-width="1"/>
<circle cx="425" cy="175.5" r="1.5" fill="#1f2bff"/>
<text x="437" y="180.3" class="lg">S11-Layout Simulation</text>
<path d="M413.8,192.2 H434.6" stroke="#c63ad6" stroke-width="1" stroke-dasharray="4.6,3.4"/>
<text x="437" y="197.1" class="lg">S11-LC circuit Simulation</text>
<path d="M413.8,209.0 H434.6" stroke="#8a7272" stroke-width="1" stroke-dasharray="1,1.6"/>
<text x="437" y="213.8" class="lg">S11-Measurement</text>
<path d="M413.8,225.8 H434.6" stroke="#ff2020" stroke-width="1"/>
<circle cx="425" cy="225.8" r="1.5" fill="#ff2020"/>
<text x="437" y="230.6" class="lg">S21-Layout Simulation</text>
<path d="M413.8,242.5 H434.6" stroke="#e8703a" stroke-width="1" stroke-dasharray="4.6,3.4"/>
<text x="437" y="247.3" class="lg">S21-LC circuit Simulation</text>
<path d="M413.8,259.2 H434.6" stroke="#222" stroke-width="1" stroke-dasharray="1,1.6"/>
<text x="437" y="264.1" class="lg">S21-Measurement</text>
<text x="361.2" y="316.6" text-anchor="middle" class="al">Frequency (GHz)</text>
<text x="341" y="336" text-anchor="middle" class="cap">(c)</text>
<text transform="translate(12.4,149.4) rotate(-90)" text-anchor="middle" class="al">Magnitude (dB)</text>
</g>
</svg>
</body></html>
